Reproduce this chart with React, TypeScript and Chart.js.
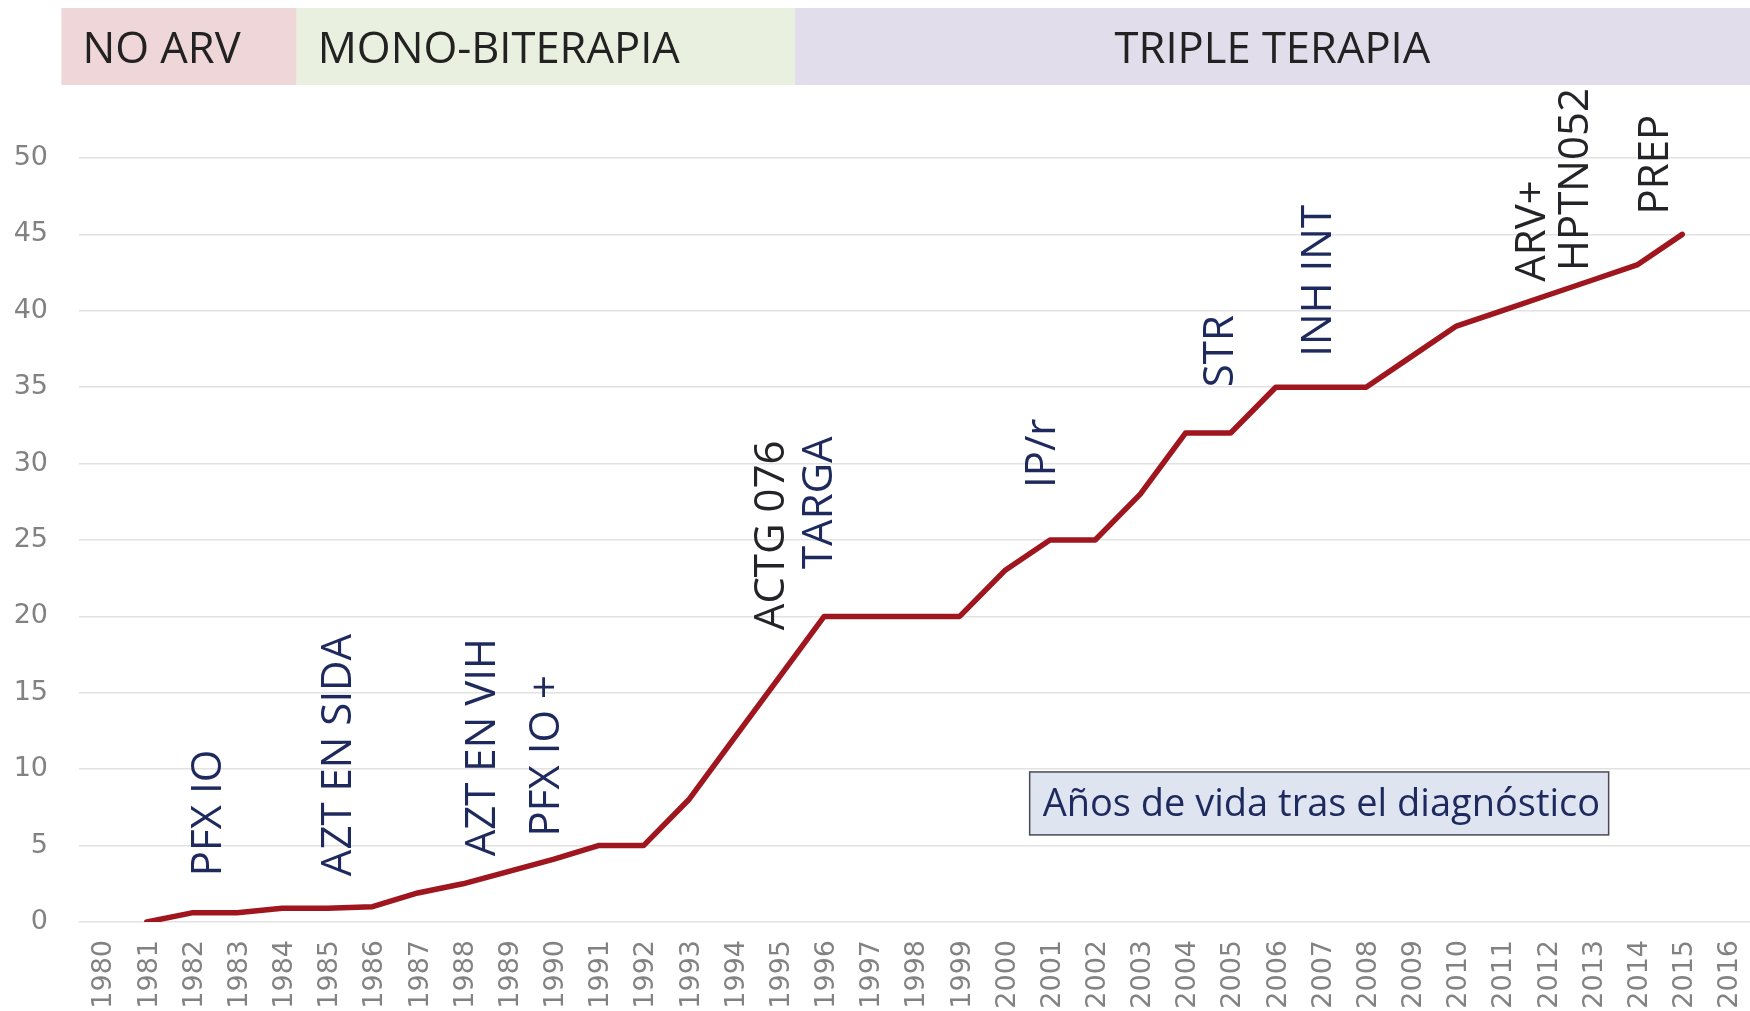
import React, { useEffect, useRef } from "react";
import { Chart, registerables } from "chart.js";

Chart.register(...registerables);

// ---------- data ----------
const years: string[] = [
  "1980", "1981", "1982", "1983", "1984", "1985", "1986", "1987", "1988", "1989",
  "1990", "1991", "1992", "1993", "1994", "1995", "1996", "1997", "1998", "1999",
  "2000", "2001", "2002", "2003", "2004", "2005", "2006", "2007", "2008", "2009",
  "2010", "2011", "2012", "2013", "2014", "2015", "2016",
];

const lifeYears: (number | null)[] = [
  null, 0, 0.6, 0.6, 0.9, 0.9, 1, 1.9, 2.5, 3.3,
  4.1, 5, 5, 8, 12, 16, 20, 20, 20, 20,
  23, 25, 25, 28, 32, 32, 35, 35, 35, 37,
  39, 40, 41, 42, 43, 45, null,
];

const yTicks: number[] = [0, 5, 10, 15, 20, 25, 30, 35, 40, 45, 50];

const seriesName = "Años de vida tras el diagnóstico";

// treatment phases (header band), in years
const phaseNames: string[] = ["NO ARV", "MONO-BITERAPIA", "TRIPLE TERAPIA"];
const phaseFrom: number[] = [1979.11, 1984.32, 1995.35];
const phaseTo: number[] = [1984.32, 1995.35, 2016.5];

// milestone annotations: label, year position, value where text starts
const milestoneLabels: string[] = [
  "PFX IO", "AZT EN SIDA", "AZT EN VIH", "PFX IO +", "ACTG 076", "TARGA",
  "IP/r", "STR", "INH INT", "ARV+", "HPTN052", "PREP",
];
const milestoneYear: number[] = [
  1982.32, 1985.18, 1988.39, 1989.8, 1994.78, 1995.84,
  2000.77, 2004.72, 2006.89, 2011.63, 2012.57, 2014.35,
];
const milestoneStart: number[] = [
  3.0, 3.0, 4.3, 5.6, 19.1, 23.1,
  28.4, 35.0, 37.0, 41.9, 42.6, 46.3,
];

// legend box extent (years / values)
const legendBoxYears: number[] = [2000.55, 2013.37];
const legendBoxValues: number[] = [9.82, 5.7];

// ---------- styles ----------
const NAVY = "#1e2a5e";
const DARK = "#232328";
const milestoneColors: string[] = [
  NAVY, NAVY, NAVY, NAVY, DARK, NAVY, NAVY, NAVY, NAVY, DARK, DARK, DARK,
];
const phaseColors: string[] = ["#efd6d9", "#e9f0df", "#e1ddeb"];
const FONT = '"Open Sans", "Noto Sans", sans-serif';
const TICK_FONT = '"DejaVu Sans", Verdana, sans-serif';
const TICK_COLOR = "#828282";

const overlayPlugin = {
  id: "overlay",
  beforeDraw(chart: any) {
    const ctx = chart.ctx as CanvasRenderingContext2D;
    const xs = chart.scales.x;
    const top = 8;
    const bottom = 85;
    ctx.save();
    for (let i = 0; i < phaseNames.length; i++) {
      const x0 = xs.getPixelForValue(phaseFrom[i] - 1980);
      const x1 = xs.getPixelForValue(phaseTo[i] - 1980);
      ctx.fillStyle = phaseColors[i];
      ctx.fillRect(x0, top, x1 - x0, bottom - top);
      ctx.fillStyle = "#222222";
      ctx.font = `43.5px ${FONT}`;
      ctx.textBaseline = "alphabetic";
      const baseY = 63;
      if (i < 2) {
        ctx.textAlign = "left";
        ctx.fillText(phaseNames[i], x0 + 21, baseY);
      } else {
        ctx.textAlign = "center";
        ctx.fillText(phaseNames[i], (x0 + x1) / 2, baseY);
      }
    }
    ctx.restore();
  },
  afterDraw(chart: any) {
    const ctx = chart.ctx as CanvasRenderingContext2D;
    const xs = chart.scales.x;
    const ca = chart.chartArea;
    ctx.save();
    // x tick labels (rotated, reading upward)
    const tsize = 27;
    ctx.font = `${tsize}px ${TICK_FONT}`;
    ctx.fillStyle = TICK_COLOR;
    const digitH = 0.729 * tsize;
    for (let i = 0; i < years.length; i++) {
      const x = xs.getPixelForValue(i);
      ctx.save();
      ctx.translate(x + digitH / 2, ca.bottom + 18);
      ctx.rotate(-Math.PI / 2);
      ctx.textAlign = "right";
      ctx.textBaseline = "alphabetic";
      ctx.fillText(years[i], 0, 0);
      ctx.restore();
    }
    ctx.restore();
  },
  afterDatasetsDraw(chart: any) {
    const ctx = chart.ctx as CanvasRenderingContext2D;
    const xs = chart.scales.x;
    const ys = chart.scales.y;
    ctx.save();
    // milestones
    const size = 42;
    const capH = 0.714 * size;
    ctx.font = `${size}px ${FONT}`;
    for (let i = 0; i < milestoneLabels.length; i++) {
      const x = xs.getPixelForValue(milestoneYear[i] - 1980);
      const y = ys.getPixelForValue(milestoneStart[i]);
      ctx.save();
      ctx.translate(x + capH / 2, y);
      ctx.rotate(-Math.PI / 2);
      ctx.textAlign = "left";
      ctx.textBaseline = "alphabetic";
      ctx.fillStyle = milestoneColors[i];
      ctx.fillText(milestoneLabels[i], 0, 0);
      ctx.restore();
    }
    // legend box
    const bx0 = xs.getPixelForValue(legendBoxYears[0] - 1980);
    const bx1 = xs.getPixelForValue(legendBoxYears[1] - 1980);
    const by0 = ys.getPixelForValue(legendBoxValues[0]);
    const by1 = ys.getPixelForValue(legendBoxValues[1]);
    ctx.fillStyle = "#dfe4f1";
    ctx.fillRect(bx0, by0, bx1 - bx0, by1 - by0);
    ctx.strokeStyle = "#4a4a55";
    ctx.lineWidth = 1.5;
    ctx.strokeRect(bx0, by0, bx1 - bx0, by1 - by0);
    ctx.fillStyle = NAVY;
    ctx.font = `38px ${FONT}`;
    ctx.textAlign = "left";
    ctx.textBaseline = "middle";
    ctx.fillText(seriesName, bx0 + 13, (by0 + by1) / 2 + 2);
    ctx.restore();
  },
};

export default function App() {
  const canvasRef = useRef<HTMLCanvasElement | null>(null);

  useEffect(() => {
    let chart: Chart | null = null;
    let cancelled = false;
    const make = () => {
      if (cancelled || !canvasRef.current) return;
      chart = new Chart(canvasRef.current, {
        type: "line",
        data: {
          labels: years,
          datasets: [
            {
              label: seriesName,
              data: lifeYears,
              borderColor: "#a0161f",
              backgroundColor: "#a0161f",
              borderWidth: 5.5,
              pointRadius: 0,
              tension: 0,
              borderCapStyle: "round",
              borderJoinStyle: "round",
              spanGaps: false,
            },
          ],
        },
        options: {
          animation: false,
          responsive: false,
          devicePixelRatio: 1,
          layout: { padding: { top: 158, left: 0, right: 0, bottom: 0 } },
          plugins: {
            legend: { display: false },
            tooltip: { enabled: false },
            title: { display: false },
          },
          scales: {
            x: {
              type: "category",
              offset: true,
              grid: { display: false, drawTicks: false },
              border: { display: false },
              ticks: { display: false, autoSkip: false },
              afterFit: (s: any) => {
                s.height = 89;
                s.paddingLeft = 0;
                s.paddingRight = 0;
              },
            },
            y: {
              min: 0,
              max: 50,
              afterBuildTicks: (s: any) => {
                s.ticks = yTicks.map((v) => ({ value: v }));
              },
              grid: { color: "#e2e2e2", lineWidth: 1.5, drawTicks: false },
              border: { display: false },
              ticks: {
                padding: 31,
                color: TICK_COLOR,
                font: { family: TICK_FONT, size: 27 },
              },
              afterFit: (s: any) => {
                s.width = 79;
              },
            },
          },
        },
        plugins: [overlayPlugin],
      } as any);
    };
    const fontsReady = (document as any).fonts
      ? Promise.all([
          (document as any).fonts.load(`42px "Open Sans"`),
          (document as any).fonts.load(`24px "DejaVu Sans"`),
        ]).catch(() => null)
      : Promise.resolve(null);
    fontsReady.then(make);
    return () => {
      cancelled = true;
      if (chart) chart.destroy();
    };
  }, []);

  return (
    <div
      style={{
        position: "fixed",
        left: 0,
        top: 0,
        width: 1750,
        height: 1011,
        background: "#ffffff",
      }}
    >
      <canvas
        ref={canvasRef}
        width={1750}
        height={1011}
        style={{ width: 1750, height: 1011, display: "block" }}
      />
    </div>
  );
}
